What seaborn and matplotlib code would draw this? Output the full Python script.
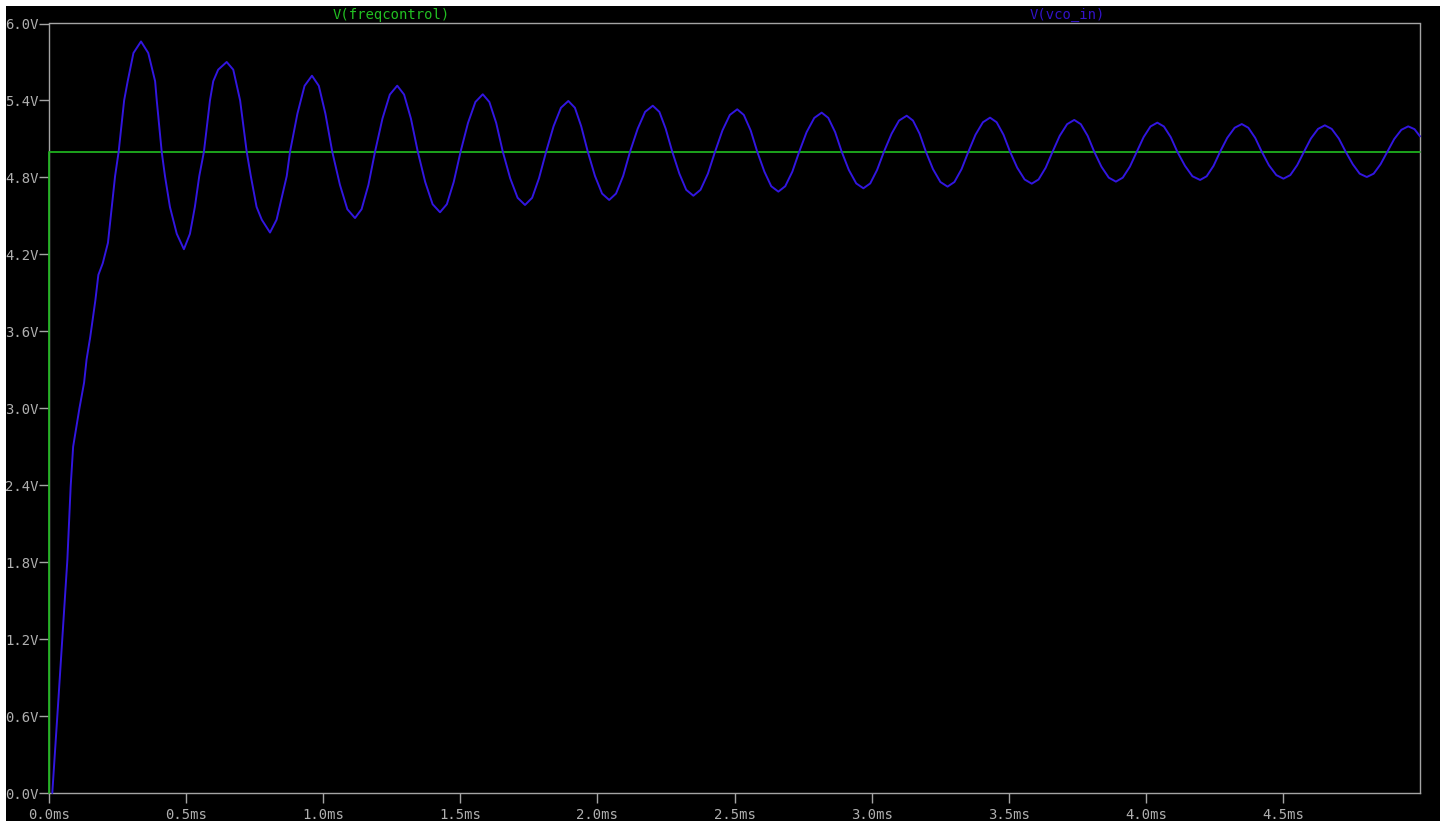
import matplotlib
matplotlib.use("Agg")
import matplotlib.pyplot as plt
import seaborn as sns
import pandas as pd
from matplotlib.patches import Rectangle

# Transient result: V(vco_in) samples (time in ms, volts)
vco_t = [
    0.012, 0.034, 0.067, 0.079, 0.088, 0.111, 0.128, 0.137, 0.150, 0.169,
    0.180, 0.196, 0.215, 0.241, 0.254, 0.274, 0.287, 0.308, 0.3355,
    0.362, 0.387, 0.393, 0.411, 0.423, 0.441, 0.466, 0.492,
    0.514, 0.532, 0.548, 0.565, 0.587, 0.599, 0.617, 0.648,
    0.672, 0.697, 0.721, 0.736, 0.757, 0.776, 0.806,
    0.830, 0.867, 0.879, 0.906, 0.932, 0.959,
    0.984, 1.008, 1.033, 1.061, 1.088, 1.116,
    1.140, 1.165, 1.189, 1.216, 1.243, 1.270,
    1.295, 1.320, 1.345, 1.372, 1.399, 1.426,
    1.451, 1.476, 1.501, 1.528, 1.555, 1.582,
    1.606, 1.631, 1.655, 1.682, 1.709, 1.736,
    1.762, 1.787, 1.813, 1.840, 1.867, 1.894,
    1.918, 1.941, 1.965, 1.991, 2.017, 2.043,
    2.068, 2.094, 2.119, 2.147, 2.174, 2.202,
    2.226, 2.249, 2.273, 2.299, 2.324, 2.350,
    2.376, 2.403, 2.429, 2.456, 2.483, 2.510,
    2.534, 2.559, 2.583, 2.609, 2.634, 2.660,
    2.685, 2.711, 2.736, 2.763, 2.791, 2.818,
    2.842, 2.867, 2.891, 2.917, 2.944, 2.970,
    2.995, 3.020, 3.045, 3.073, 3.100, 3.128,
    3.151, 3.175, 3.198, 3.224, 3.251, 3.277,
    3.302, 3.328, 3.353, 3.379, 3.406, 3.432,
    3.456, 3.481, 3.505, 3.531, 3.558, 3.584,
    3.609, 3.635, 3.660, 3.686, 3.713, 3.739,
    3.763, 3.788, 3.812, 3.838, 3.865, 3.891,
    3.916, 3.942, 3.967, 3.992, 4.017, 4.042,
    4.066, 4.091, 4.115, 4.143, 4.170, 4.198,
    4.222, 4.247, 4.271, 4.297, 4.324, 4.350,
    4.374, 4.399, 4.423, 4.449, 4.476, 4.502,
    4.527, 4.552, 4.577, 4.602, 4.628, 4.653,
    4.678, 4.704, 4.729, 4.755, 4.780, 4.806,
    4.831, 4.856, 4.881, 4.906, 4.932, 4.957,
    4.980, 5.000,
]
vco_v = [
    0.00, 0.72, 1.82, 2.39, 2.70, 3.00, 3.20, 3.38, 3.55, 3.84,
    4.04, 4.13, 4.29, 4.81, 5.00, 5.40, 5.55, 5.77, 5.86,
    5.77, 5.55, 5.40, 5.00, 4.81, 4.57, 4.36, 4.24,
    4.36, 4.57, 4.81, 5.00, 5.40, 5.55, 5.64, 5.70,
    5.64, 5.40, 5.00, 4.81, 4.57, 4.47, 4.37,
    4.47, 4.81, 5.00, 5.297, 5.514, 5.593,
    5.514, 5.297, 5.00, 4.742, 4.552, 4.483,
    4.552, 4.742, 5.00, 5.258, 5.446, 5.515,
    5.446, 5.258, 5.00, 4.764, 4.591, 4.528,
    4.591, 4.764, 5.00, 5.224, 5.388, 5.448,
    5.388, 5.224, 5.00, 4.793, 4.641, 4.585,
    4.641, 4.793, 5.00, 5.198, 5.343, 5.396,
    5.343, 5.198, 5.00, 4.812, 4.674, 4.624,
    4.674, 4.812, 5.00, 5.180, 5.311, 5.359,
    5.311, 5.180, 5.00, 4.829, 4.703, 4.657,
    4.703, 4.829, 5.00, 5.166, 5.287, 5.331,
    5.287, 5.166, 5.00, 4.845, 4.731, 4.689,
    4.731, 4.845, 5.00, 5.153, 5.264, 5.305,
    5.264, 5.153, 5.00, 4.858, 4.753, 4.715,
    4.753, 4.858, 5.00, 5.141, 5.243, 5.281,
    5.243, 5.141, 5.00, 4.864, 4.764, 4.728,
    4.764, 4.864, 5.00, 5.133, 5.230, 5.266,
    5.230, 5.133, 5.00, 4.876, 4.784, 4.751,
    4.784, 4.876, 5.00, 5.124, 5.215, 5.248,
    5.215, 5.124, 5.00, 4.884, 4.798, 4.767,
    4.798, 4.884, 5.00, 5.114, 5.197, 5.227,
    5.197, 5.114, 5.00, 4.890, 4.809, 4.780,
    4.809, 4.890, 5.00, 5.108, 5.187, 5.216,
    5.187, 5.108, 5.00, 4.895, 4.818, 4.790,
    4.818, 4.895, 5.00, 5.103, 5.178, 5.206,
    5.178, 5.103, 5.00, 4.902, 4.829, 4.803,
    4.829, 4.902, 5.00, 5.099, 5.171, 5.198,
    5.176, 5.120,
]

# V(freqcontrol): step to 5 V at t = 0
freq_t = [0.0, 0.0, 5.0]
freq_v = [0.0, 5.0, 5.0]

x_ticks = [0.0, 0.5, 1.0, 1.5, 2.0, 2.5, 3.0, 3.5, 4.0, 4.5]
x_tick_labels = ["0.0ms", "0.5ms", "1.0ms", "1.5ms", "2.0ms",
                 "2.5ms", "3.0ms", "3.5ms", "4.0ms", "4.5ms"]
y_ticks = [0.0, 0.6, 1.2, 1.8, 2.4, 3.0, 3.6, 4.2, 4.8, 5.4, 6.0]
y_tick_labels = ["0.0V", "0.6V", "1.2V", "1.8V", "2.4V", "3.0V",
                 "3.6V", "4.2V", "4.8V", "5.4V", "6.0V"]

trace_names = ["V(freqcontrol)", "V(vco_in)"]

GREEN = "#1fb01f"
GREEN_TXT = "#22c022"
BLUE = "#3216e0"
BLUE_TXT = "#3212c8"
GRID = "#a4a4a4"
LABEL = "#b0b0b0"

sns.set_style("dark", {"axes.facecolor": "black", "figure.facecolor": "white",
                       "axes.edgecolor": GRID, "xtick.color": GRID,
                       "ytick.color": GRID, "axes.grid": False})
plt.rcParams["font.family"] = ["DejaVu Sans Mono", "DejaVu Sans"]

W, H = 1448, 821
fig = plt.figure(figsize=(W / 100, H / 100), dpi=100)
fig.patches.append(Rectangle((6 / W, 0), (1440 - 6) / W, 1 - 6 / H,
                             transform=fig.transFigure, facecolor="black",
                             edgecolor="none", zorder=-10))

left, right, bottom, top = 49 / W, 1420 / W, 1 - 793 / H, 1 - 23.5 / H
ax = fig.add_axes([left, bottom, right - left, top - bottom])
ax.set_facecolor("black")

df_freq = pd.DataFrame({"t": freq_t, "v": freq_v})
df_vco = pd.DataFrame({"t": vco_t, "v": vco_v})

sns.lineplot(data=df_freq, x="t", y="v", sort=False, estimator=None,
             color=GREEN, linewidth=1.3, ax=ax, zorder=3)
sns.lineplot(data=df_vco, x="t", y="v", sort=False, estimator=None,
             color=BLUE, linewidth=1.4, ax=ax, zorder=4)
for ln in ax.lines:
    ln.set_clip_on(False)

ax.set_xlim(0, 5.0)
ax.set_ylim(0, 6.0)
ax.set_xticks(x_ticks)
ax.set_xticklabels(x_tick_labels)
ax.set_yticks(y_ticks)
ax.set_yticklabels(y_tick_labels)
ax.set_xlabel("")
ax.set_ylabel("")

ax.tick_params(axis="both", which="major", direction="out", length=7,
               width=1.0, colors=GRID, labelcolor=LABEL, labelsize=10,
               bottom=True, left=True)
ax.tick_params(axis="y", pad=0.5)
ax.tick_params(axis="x", pad=3.5)
for sp in ax.spines.values():
    sp.set_visible(True)
    sp.set_color(GRID)
    sp.set_linewidth(1.0)

fig.text(391 / W, 1 - 15 / H, trace_names[0], color=GREEN_TXT, fontsize=10,
         ha="center", va="center")
fig.text(1067 / W, 1 - 15 / H, trace_names[1], color=BLUE_TXT, fontsize=10,
         ha="center", va="center")

fig.savefig("out.png", dpi=100, facecolor="white")
